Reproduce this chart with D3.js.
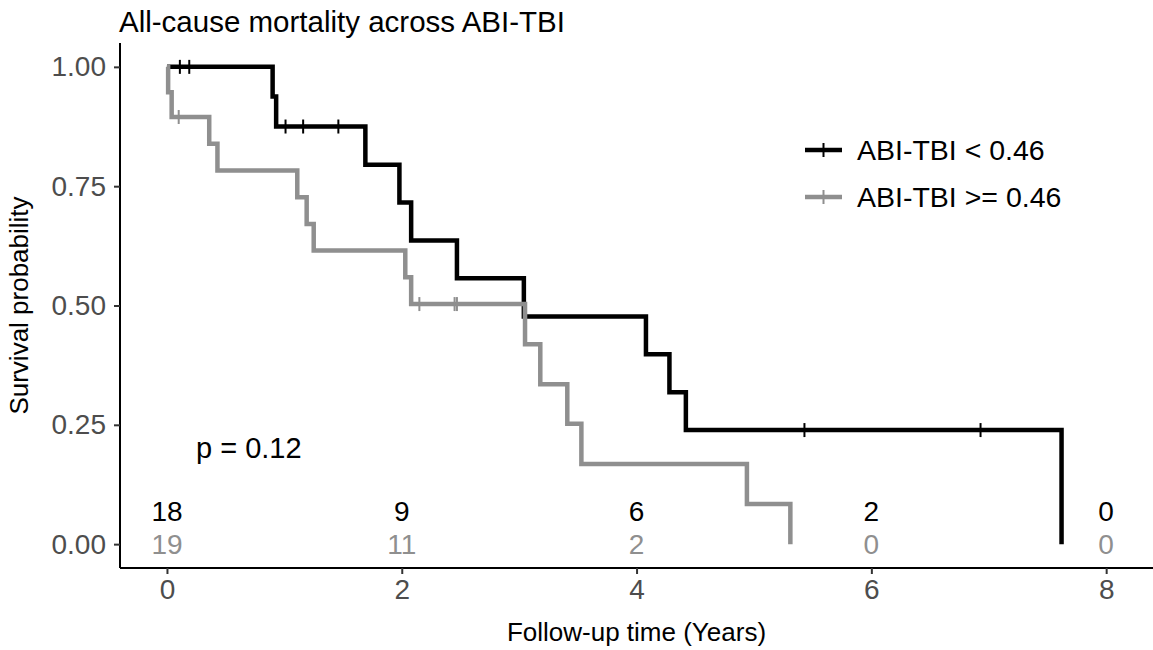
<!DOCTYPE html>
<html>
<head>
<meta charset="utf-8">
<script src="https://cdn.jsdelivr.net/npm/d3@7"></script>
<style>
  body { margin: 0; background: #fff; }
  svg { display: block; font-family: "Liberation Sans", Arial, sans-serif; }
</style>
</head>
<body>
<svg id="chart" width="1153" height="650"></svg>
<script>
// --- Data ------------------------------------------------------------
const groupNames = ['ABI-TBI < 0.46', 'ABI-TBI >= 0.46'];
const groupColors = ['#000000', '#8f8f8f'];

// step times (years) and survival after each step
const lowTimes = [0, 0.90, 0.93, 1.69, 1.98, 2.08, 2.47, 3.04, 4.08, 4.28, 4.42, 7.62];
const lowSurv  = [1, 0.938, 0.875, 0.795, 0.716, 0.636, 0.557, 0.477, 0.398, 0.318, 0.239, 0];
const lowCensor = [0.11, 0.19, 1.01, 1.16, 1.46, 5.43, 6.93];

const highTimes = [0, 0.01, 0.04, 0.36, 0.43, 1.11, 1.19, 1.25, 2.03, 2.08, 3.05, 3.18, 3.41, 3.53, 4.94, 5.31];
const highSurv  = [1, 0.947, 0.895, 0.839, 0.783, 0.727, 0.671, 0.615, 0.559, 0.503, 0.419, 0.335, 0.252, 0.168, 0.084, 0];
const highCensor = [0.10, 2.15, 2.45, 2.47];

// number at risk table
const riskTimes = [0, 2, 4, 6, 8];
const lowRisk  = [18, 9, 6, 2, 0];
const highRisk = [19, 11, 2, 0, 0];

const xTicks = [0, 2, 4, 6, 8];
const yTicks = [0, 0.25, 0.5, 0.75, 1];

const pLabel = 'p = 0.12';

// --- Scales ------------------------------------------------------------
const svg = d3.select('#chart');
const panel = { left: 120, right: 1153, top: 43, bottom: 568 };

const x = d3.scaleLinear().domain([-0.4, 8.4]).range([panel.left, panel.left + 8.8 * 117.4]);
const y = d3.scaleLinear().domain([-0.05, 1.05]).range([panel.bottom, panel.top]);

const groups = [
  { times: lowTimes, surv: lowSurv, censor: lowCensor, risk: lowRisk },
  { times: highTimes, surv: highSurv, censor: highCensor, risk: highRisk },
];

// survival value at time t (step function)
function survAt(g, t) {
  let s = g.surv[0];
  g.times.forEach((tt, i) => { if (tt <= t) s = g.surv[i]; });
  return s;
}

// --- Axes --------------------------------------------------------------
const xAxis = svg.append('g')
  .attr('transform', `translate(0,${panel.bottom})`)
  .call(d3.axisBottom(x).tickValues(xTicks).tickFormat(d3.format('d')).tickSize(6).tickPadding(5));
const yAxis = svg.append('g')
  .attr('transform', `translate(${panel.left},0)`)
  .call(d3.axisLeft(y).tickValues(yTicks).tickFormat(d3.format('.2f')).tickSize(6).tickPadding(8));

[xAxis, yAxis].forEach(a => {
  a.select('.domain').attr('stroke', '#000').attr('stroke-width', 2);
  a.selectAll('.tick line').attr('stroke', '#333').attr('stroke-width', 2);
  a.selectAll('.tick text').attr('fill', '#4d4d4d').style('font-size', '28px');
});
// axis lines span the full panel
xAxis.select('.domain').attr('d', `M${panel.left},0H${panel.right}`);
yAxis.select('.domain').attr('d', `M0,${panel.top}V${panel.bottom}`);

svg.append('text')
  .attr('x', (panel.left + panel.right) / 2).attr('y', 641)
  .attr('text-anchor', 'middle').style('font-size', '26px')
  .text('Follow-up time (Years)');

svg.append('text')
  .attr('transform', `translate(28,${(panel.top + panel.bottom) / 2}) rotate(-90)`)
  .attr('text-anchor', 'middle').style('font-size', '26px')
  .text('Survival probability');

svg.append('text')
  .attr('x', 119).attr('y', 32)
  .style('font-size', '29.5px')
  .text('All-cause mortality across ABI-TBI');

// --- Curves ------------------------------------------------------------
const line = d3.line()
  .x(d => x(d[0]))
  .y(d => y(d[1]))
  .curve(d3.curveStepAfter);

groups.forEach((g, i) => {
  const pts = g.times.map((t, j) => [t, g.surv[j]]);
  svg.append('path')
    .attr('d', line(pts))
    .attr('fill', 'none')
    .attr('stroke', groupColors[i])
    .attr('stroke-width', 4.5);

  svg.append('g').selectAll('line')
    .data(g.censor)
    .join('line')
    .attr('x1', d => x(d)).attr('x2', d => x(d))
    .attr('y1', d => y(survAt(g, d)) - 7)
    .attr('y2', d => y(survAt(g, d)) + 7)
    .attr('stroke', groupColors[i])
    .attr('stroke-width', 2);
});

// --- Number at risk ----------------------------------------------------
const riskY = [511, 544];
groups.forEach((g, i) => {
  svg.append('g').selectAll('text')
    .data(riskTimes)
    .join('text')
    .attr('x', d => x(d))
    .attr('y', riskY[i])
    .attr('dy', '0.36em')
    .attr('text-anchor', 'middle')
    .attr('fill', groupColors[i])
    .style('font-size', '28px')
    .text((d, j) => g.risk[j]);
});

svg.append('text')
  .attr('x', 196).attr('y', 448).attr('dy', '0.36em')
  .style('font-size', '29px')
  .text(pLabel);

// --- Legend ------------------------------------------------------------
const legend = svg.append('g').attr('transform', 'translate(805,150)');
groupNames.forEach((name, i) => {
  const row = legend.append('g').attr('transform', `translate(0,${i * 47})`);
  row.append('line').attr('x1', 0).attr('x2', 37)
    .attr('stroke', groupColors[i]).attr('stroke-width', 4.5);
  row.append('line').attr('x1', 18.5).attr('x2', 18.5).attr('y1', -7).attr('y2', 7)
    .attr('stroke', groupColors[i]).attr('stroke-width', 2);
  row.append('text').attr('x', 52).attr('dy', '0.36em')
    .style('font-size', '28.5px')
    .text(name);
});
</script>
</body>
</html>
